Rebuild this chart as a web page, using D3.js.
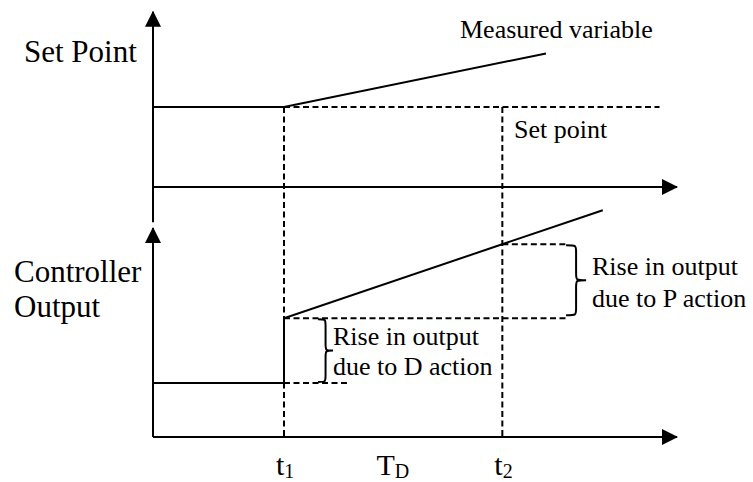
<!DOCTYPE html>
<html>
<head>
<meta charset="utf-8">
<script src="https://cdnjs.cloudflare.com/ajax/libs/d3/7.8.5/d3.min.js"></script>
<style>
  body { margin: 0; background: #fff; }
</style>
</head>
<body>
<div id="chart"></div>
<script>
let width = 753, height = 482

// time values (t1 = 3, t2 = t1 + TD = 8, axis runs to 12)
let t1 = 3, t2 = 8, timeEnd = 12
let timeLabels = [{ t: t1, main: 't', sub: '1' }, { t: 5.3, main: 'T', sub: 'D' }, { t: t2, main: 't', sub: '2' }]

// top panel: set point level and measured variable
let setPointLevel = 1
let setPointDashEnd = 11.6
let measuredTimes = [0, t1, 9]
let measuredValues = [1, 1, 1.67]
let topAxisMax = 2.19, topAxisMin = -0.44

// bottom panel: controller output
let outputTimes = [0, t1, t1, 10.3]
let outputValues = [1, 1, 2.2, 4.2]
let outputAtT2 = 3.57
let bottomAxisMax = 3.87

let x = d3.scaleLinear().domain([0, timeEnd]).range([153, 677])
let yTop = d3.scaleLinear().domain([0, 1]).range([187, 107])
let yBot = d3.scaleLinear().domain([0, 1]).range([437, 383])

let serif = "'Liberation Serif', 'Times New Roman', Times, 'DejaVu Serif', serif"

let svg = d3.select('#chart')
  .append('svg')
  .attr('width', width)
  .attr('height', height)
  .attr('font-family', serif)

svg.append('defs').append('marker')
  .attr('id', 'arrow')
  .attr('markerUnits', 'userSpaceOnUse')
  .attr('viewBox', '0 -8 16 16')
  .attr('markerWidth', 16)
  .attr('markerHeight', 16)
  .attr('refX', 15)
  .attr('refY', 0)
  .attr('orient', 'auto')
  .append('path')
    .attr('d', 'M0,-8L16,0L0,8Z')
    .style('fill', '#000')

function line (x1, y1, x2, y2, dashed, arrow) {
  let l = svg.append('line')
    .attr('x1', x1).attr('y1', y1)
    .attr('x2', x2).attr('y2', y2)
    .style('stroke', '#000')
    .style('stroke-width', 2)
  if (dashed) l.style('stroke-dasharray', '6,3.5')
  if (arrow) l.attr('marker-end', 'url(#arrow)')
  return l
}

// axes
line(x(0), yTop(topAxisMin), x(0), yTop(topAxisMax), false, true)
line(x(0), yTop(0), x(timeEnd), yTop(0), false, true)
line(x(0), yBot(0), x(0), yBot(bottomAxisMax), false, true)
line(x(0), yBot(0), x(timeEnd), yBot(0), false, true)

// dashed guides
line(x(t1), yTop(setPointLevel), x(setPointDashEnd), yTop(setPointLevel), true)
line(x(t1), yTop(setPointLevel), x(t1), yBot(0), true)
line(x(t2), yTop(setPointLevel), x(t2), yBot(0), true)
line(x(t1), yBot(outputValues[2]), x(9.5), yBot(outputValues[2]), true)
line(x(t1), yBot(outputValues[0]), x(4.5), yBot(outputValues[0]), true)
line(x(t2), yBot(outputAtT2), x(9.5), yBot(outputAtT2), true)

let path = d3.line()
  .x(d => x(d[0]))
  .y(d => d[2](d[1]))

svg.append('path')
  .attr('d', path(measuredTimes.map((t, i) => [t, measuredValues[i], yTop])))
  .style('fill', 'none')
  .style('stroke', '#000')
  .style('stroke-width', 2)

svg.append('path')
  .attr('d', path(outputTimes.map((t, i) => [t, outputValues[i], yBot])))
  .style('fill', 'none')
  .style('stroke', '#000')
  .style('stroke-width', 2)

// curly braces pointing right
function brace (bx, y0, y1, w) {
  let ym = (y0 + y1) / 2, r = 7, xm = bx + w * 0.5
  let d = 'M' + bx + ',' + y0 +
    'C' + xm + ',' + y0 + ' ' + xm + ',' + y0 + ' ' + xm + ',' + (y0 + r) +
    'L' + xm + ',' + (ym - r) +
    'C' + xm + ',' + ym + ' ' + xm + ',' + ym + ' ' + (bx + w) + ',' + ym +
    'C' + xm + ',' + ym + ' ' + xm + ',' + ym + ' ' + xm + ',' + (ym + r) +
    'L' + xm + ',' + (y1 - r) +
    'C' + xm + ',' + y1 + ' ' + xm + ',' + y1 + ' ' + bx + ',' + y1
  svg.append('path')
    .attr('d', d)
    .style('fill', 'none')
    .style('stroke', '#000')
    .style('stroke-width', 2)
}
brace(x(3.78), yBot(outputValues[2]) + 1, yBot(outputValues[0]) - 1, 15)
brace(x(9.46), yBot(outputAtT2) + 1, yBot(outputValues[2]) - 3, 20)

function label (tx, ty, str, size) {
  return svg.append('text')
    .attr('x', tx)
    .attr('y', ty)
    .attr('font-family', serif)
    .style('font-size', size + 'px')
    .text(str)
}

label(24, 62, 'Set Point', 31)
label(14, 282, 'Controller', 31)
label(14, 317, 'Output', 31)

label(460, 38, 'Measured variable', 26)
label(514, 138, 'Set point', 26)
label(333, 345, 'Rise in output', 26)
label(333, 375, 'due to D action', 26)
label(592, 275, 'Rise in output', 26)
label(592, 307, 'due to P action', 26)

let tl = svg.selectAll('.time-label')
  .data(timeLabels)
  .enter().append('text')
  .attr('class', 'time-label')
  .attr('x', d => x(d.t) - 8)
  .attr('y', 475)
  .attr('font-family', serif)
  .style('font-size', '30px')

tl.append('tspan').text(d => d.main)
tl.append('tspan')
  .attr('dy', 3)
  .style('font-size', '20px')
  .text(d => d.sub)
</script>
</body>
</html>
